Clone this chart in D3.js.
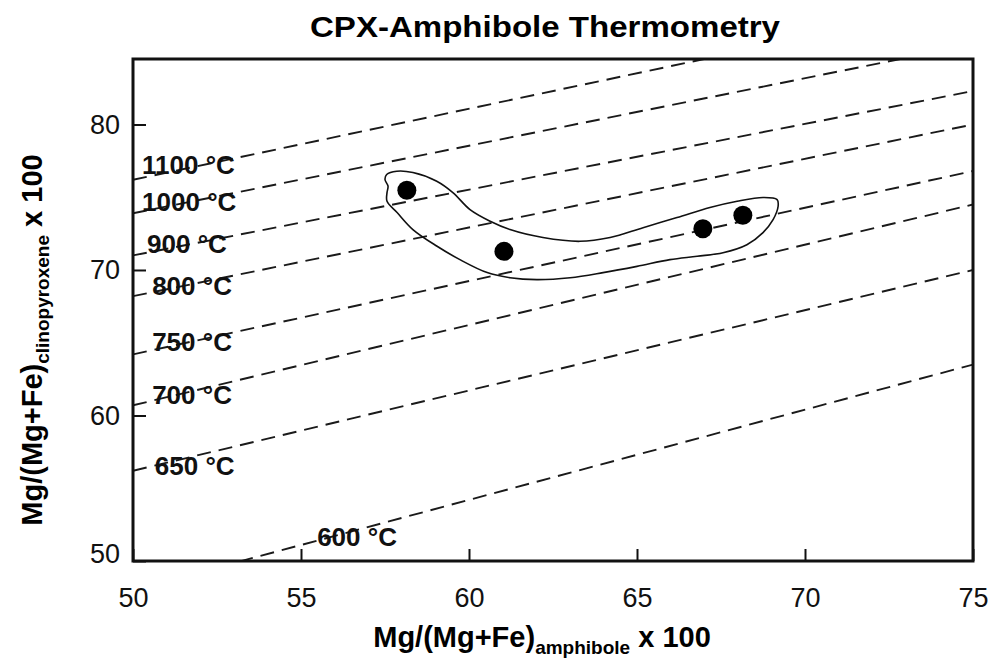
<!DOCTYPE html>
<html>
<head>
<meta charset="utf-8">
<script src="https://cdn.jsdelivr.net/npm/d3@7"></script>
<style>
  body { margin: 0; background: #fff; }
  svg { display: block; font-family: "Liberation Sans", Arial, sans-serif; }
</style>
</head>
<body>
<div id="chart"></div>
<script>
// isotherms: y value where each line crosses x=50 and x=75
const isoTemps = ["1100", "1000", "900", "800", "750", "700", "650", "600"];
const isoY50 = [76.2, 73.9, 71.0, 68.2, 64.2, 60.7, 56.2, 48.0];
const isoY75 = [88.4, 85.5, 82.3, 80.0, 76.8, 74.5, 70.0, 63.5];

// samples
const sampleX = [58.15, 61.04, 66.96, 68.15];
const sampleY = [75.48, 71.28, 72.84, 73.76];

// hand drawn envelope round the samples
const envX = [57.50, 57.55, 57.85, 58.33, 59.04, 59.52, 60.03, 60.63, 61.22, 62.20, 63.30, 64.20, 65.18, 66.19, 67.17, 67.98, 68.75, 69.17, 69.20,
  69.05, 68.75, 68.27, 67.56, 66.79, 65.98, 65.00, 63.99, 63.01, 62.02, 61.22, 60.54, 59.73, 59.05, 58.33, 57.86, 57.56, 57.56, 57.59];
const envY = [76.22, 76.56, 76.79, 76.70, 76.10, 75.32, 74.15, 73.35, 72.78, 72.23, 71.97, 72.23, 72.91, 73.60, 74.29, 74.72, 74.98, 74.84, 74.38,
  73.46, 72.57, 71.74, 71.19, 70.94, 70.71, 70.25, 69.82, 69.47, 69.34, 69.47, 69.82, 70.71, 71.63, 72.78, 73.95, 74.72, 75.32, 75.76];

const xTickLabels = [50, 55, 60, 65, 70, 75];
const yTickLabels = [50, 60, 70, 80];

const width = 990, height = 666;
const plotL = 133, plotR = 973, plotT = 59, plotB = 561;

const x = d3.scaleLinear().domain([50, 75]).range([plotL, plotR]);
const y = d3.scaleLinear().domain([50, 84.5]).range([plotB, plotT]);

const svg = d3.select("#chart").append("svg")
    .attr("width", width)
    .attr("height", height);

svg.append("clipPath").attr("id", "plotclip")
  .append("rect")
    .attr("x", plotL).attr("y", plotT)
    .attr("width", plotR - plotL).attr("height", plotB - plotT);

// title
svg.append("text")
    .attr("x", 545).attr("y", 37)
    .attr("text-anchor", "middle")
    .attr("textLength", 470)
    .attr("lengthAdjust", "spacingAndGlyphs")
    .style("font-size", "29px")
    .style("font-weight", "bold")
    .text("CPX-Amphibole Thermometry");

// isotherm lines
const iso = isoTemps.map((t, i) => ({ t: t, y50: isoY50[i], y75: isoY75[i] }));
const lineAt = (d, xv) => d.y50 + (d.y75 - d.y50) * (xv - 50) / 25;

svg.append("g")
    .attr("clip-path", "url(#plotclip)")
  .selectAll("line")
  .data(iso)
  .enter()
  .append("line")
    .attr("x1", x(50)).attr("y1", d => y(d.y50))
    .attr("x2", x(75)).attr("y2", d => y(d.y75))
    .attr("stroke", "#1a1a1a")
    .attr("stroke-width", 1.9)
    .attr("stroke-dasharray", "14 8");

// isotherm labels, sitting on their line
const labelX = [50.27, 50.27, 50.42, 50.57, 50.57, 50.57, 50.65, 55.48];
const labelDy = [-4, 0, 0, 3, 1, 3, 9, 5];
svg.append("g")
  .selectAll("text")
  .data(iso)
  .enter()
  .append("text")
    .attr("x", (d, i) => x(labelX[i]))
    .attr("y", (d, i) => y(lineAt(d, labelX[i])) + labelDy[i])
    .style("font-size", "26px")
    .style("font-weight", "bold")
    .style("fill", "#111")
    .text(d => d.t + " °C");

// envelope
const env = envX.map((v, i) => [v, envY[i]]);
svg.append("path")
    .datum(env)
    .attr("d", d3.line().x(d => x(d[0])).y(d => y(d[1])).curve(d3.curveCatmullRomClosed))
    .attr("fill", "none")
    .attr("stroke", "#111")
    .attr("stroke-width", 1.6);

// samples
svg.append("g")
  .selectAll("circle")
  .data(sampleX)
  .enter()
  .append("circle")
    .attr("cx", d => x(d))
    .attr("cy", (d, i) => y(sampleY[i]))
    .attr("r", 9.5)
    .attr("fill", "#000");

// axes
const xAxis = svg.append("g")
    .attr("transform", `translate(0,${plotB})`)
    .call(d3.axisBottom(x).tickValues(xTickLabels).tickSizeInner(-12).tickSizeOuter(0).tickPadding(27));
const yAxis = svg.append("g")
    .attr("transform", `translate(${plotL},0)`)
    .call(d3.axisLeft(y).tickValues(yTickLabels).tickSizeInner(-13).tickSizeOuter(0).tickPadding(13));

[xAxis, yAxis].forEach(g => {
  g.select(".domain").remove();
  g.selectAll("line").attr("stroke", "#111").attr("stroke-width", 2);
  g.selectAll("text")
    .attr("font-family", null)
    .style("font-size", "27px")
    .style("fill", "#111");
});
yAxis.selectAll(".tick text").filter(d => d === 50).attr("dy", "0.05em");

// frame
svg.append("rect")
    .attr("x", plotL).attr("y", plotT)
    .attr("width", plotR - plotL).attr("height", plotB - plotT)
    .attr("fill", "none")
    .attr("stroke", "#111")
    .attr("stroke-width", 3);

// axis titles
const xTitle = svg.append("text")
    .attr("x", 542).attr("y", 647)
    .attr("text-anchor", "middle")
    .style("font-size", "29px")
    .style("font-weight", "bold");
xTitle.append("tspan").text("Mg/(Mg+Fe)");
xTitle.append("tspan").attr("dy", 7).style("font-size", "19px").text("amphibole");
xTitle.append("tspan").attr("dy", -7).text(" x 100");

const yTitle = svg.append("text")
    .attr("transform", "translate(42,340) rotate(-90)")
    .attr("text-anchor", "middle")
    .style("font-size", "29px")
    .style("font-weight", "bold");
yTitle.append("tspan").text("Mg/(Mg+Fe)");
yTitle.append("tspan").attr("dy", 7).style("font-size", "19px").text("clinopyroxene");
yTitle.append("tspan").attr("dy", -7).text(" x 100");
</script>
</body>
</html>
